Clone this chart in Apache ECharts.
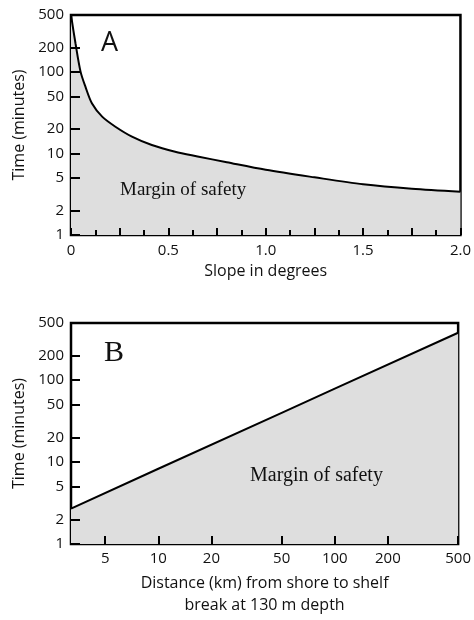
<!DOCTYPE html>
<html>
<head>
<meta charset="utf-8">
<script src="https://cdn.jsdelivr.net/npm/echarts@6/dist/echarts.min.js"></script>
<style>
  html, body { margin: 0; padding: 0; background: #fff; }
  #chart { width: 474px; height: 620px; }
</style>
</head>
<body>
<div id="chart"></div>
<script>
'use strict';

// ── Data ──────────────────────────────────────────────────────────────────────
// Panel A: time vs slope
const slopeDeg   = [0, 0.023, 0.049, 0.074, 0.108, 0.16, 0.228, 0.313, 0.415, 0.535, 0.65, 0.8, 1.0, 1.25, 1.5, 1.75, 2.0];
const slopeTime  = [500, 225, 101, 66, 41, 28.3, 21.3, 16.1, 12.7, 10.5, 9.2, 7.8, 6.3, 5.1, 4.2, 3.7, 3.4];

// Panel B: time vs distance to shelf break
const distKm     = [3.2, 10, 50, 100, 500];
const distTime   = [2.7, 8.3, 40, 79, 380];

// Axis ticks
const timeTicks  = [1, 2, 5, 10, 20, 50, 100, 200, 500];
const distTicks  = [5, 10, 20, 50, 100, 200, 500];
const TIME_MIN = 1, TIME_MAX = 500;
const DIST_MIN = 3.2, DIST_MAX = 500;

// ── Styles ────────────────────────────────────────────────────────────────────
const SANS  = '"Open Sans", sans-serif';
const SERIF = '"Liberation Serif", serif';
const FILL  = '#dedede';
const lg = Math.log10;

const labelStyle = { color: '#111', fontFamily: SANS, fontSize: 15 };
const nameStyle  = { color: '#111', fontFamily: SANS, fontSize: 16 };
const tickLine   = { color: '#000', width: 2 };

// Log-spaced helper axis that only carries labels/ticks
function helperTimeAxis(gridIndex) {
  return {
    type: 'value', gridIndex, position: 'left', z: 3,
    min: lg(TIME_MIN), max: lg(TIME_MAX),
    name: 'Time (minutes)', nameLocation: 'middle', nameGap: 43,
    nameTextStyle: nameStyle,
    axisLine:  { show: false },
    splitLine: { show: false },
    axisTick:  { show: true, inside: true, length: 9, customValues: timeTicks.map(lg), lineStyle: tickLine },
    axisLabel: { customValues: timeTicks.map(lg), margin: 7, ...labelStyle,
                 formatter: v => String(Math.round(Math.pow(10, v))) },
  };
}

function hiddenLogAxis(gridIndex, min, max, position) {
  return {
    type: 'log', gridIndex, min, max, position,
    axisLine:  { show: false },
    axisTick:  { show: false },
    axisLabel: { show: false },
    splitLine: { show: false },
    minorTick: { show: false },
  };
}

// ── Chart ─────────────────────────────────────────────────────────────────────
const chart = echarts.init(document.getElementById('chart'), null, { renderer: 'canvas' });

chart.setOption({
  backgroundColor: '#fff',
  animation: false,
  grid: [
    { left: 71, right: 12, top: 15,  height: 220, show: true, borderColor: '#000', borderWidth: 2.5, backgroundColor: 'transparent' },
    { left: 71, right: 12, top: 323, height: 221, show: true, borderColor: '#000', borderWidth: 2.5, backgroundColor: 'transparent' },
  ],
  xAxis: [
    // A: slope
    {
      type: 'value', gridIndex: 0, position: 'bottom', z: 3, min: 0, max: 2, interval: 0.25,
      name: 'Slope in degrees', nameLocation: 'middle', nameGap: 25,
      nameTextStyle: { ...nameStyle, lineHeight: 22 },
      axisLine:  { show: false },
      splitLine: { show: false },
      axisTick:  { inside: true, length: 7, lineStyle: tickLine },
      minorTick: { show: true, splitNumber: 2, length: 5, lineStyle: tickLine },
      axisLabel: { margin: 8, ...labelStyle,
                   formatter: v => (Math.abs(v * 2 - Math.round(v * 2)) > 1e-6 ? '' : (v === 0 ? '0' : v.toFixed(1))) },
    },
    // B: distance (data axis, log)
    hiddenLogAxis(1, DIST_MIN, DIST_MAX, 'bottom'),
    // B: distance (label axis)
    {
      type: 'value', gridIndex: 1, position: 'bottom', z: 3, min: lg(DIST_MIN), max: lg(DIST_MAX),
      name: 'Distance (km) from shore to shelf\nbreak at 130 m depth',
      nameLocation: 'middle', nameGap: 28,
      nameTextStyle: { ...nameStyle, lineHeight: 22 },
      axisLine:  { show: false },
      splitLine: { show: false },
      axisTick:  { inside: true, length: 8, customValues: distTicks.map(lg), lineStyle: tickLine },
      axisLabel: { customValues: distTicks.map(lg), margin: 7, ...labelStyle,
                   formatter: v => String(Math.round(Math.pow(10, v))) },
    },
  ],
  yAxis: [
    hiddenLogAxis(0, TIME_MIN, TIME_MAX, 'left'),
    helperTimeAxis(0),
    hiddenLogAxis(1, TIME_MIN, TIME_MAX, 'left'),
    helperTimeAxis(1),
  ],
  series: [
    {
      type: 'line', xAxisIndex: 0, yAxisIndex: 0,
      data: slopeDeg.map((x, i) => [x, slopeTime[i]]),
      smooth: 0.3, symbol: 'none',
      lineStyle: { color: '#000', width: 2 },
      areaStyle: { color: FILL, opacity: 1, origin: 'start' },
      z: 1,
    },
    {
      type: 'line', xAxisIndex: 1, yAxisIndex: 2,
      data: distKm.map((x, i) => [x, distTime[i]]),
      symbol: 'none',
      lineStyle: { color: '#000', width: 2 },
      areaStyle: { color: FILL, opacity: 1, origin: 'start' },
      z: 1,
    },
  ],
  graphic: [
    { type: 'text', left: 101, top: 30,  z: 10, style: { text: 'A', font: '27px ' + SANS,  fill: '#111' } },
    { type: 'text', left: 104, top: 338, z: 10, style: { text: 'B', font: '30px ' + SERIF, fill: '#111' } },
    { type: 'text', left: 120, top: 181, z: 10, style: { text: 'Margin of safety', font: '19px ' + SERIF, fill: '#111' } },
    { type: 'text', left: 250, top: 466, z: 10, style: { text: 'Margin of safety', font: '20px ' + SERIF, fill: '#111' } },
  ],
});
</script>
</body>
</html>
